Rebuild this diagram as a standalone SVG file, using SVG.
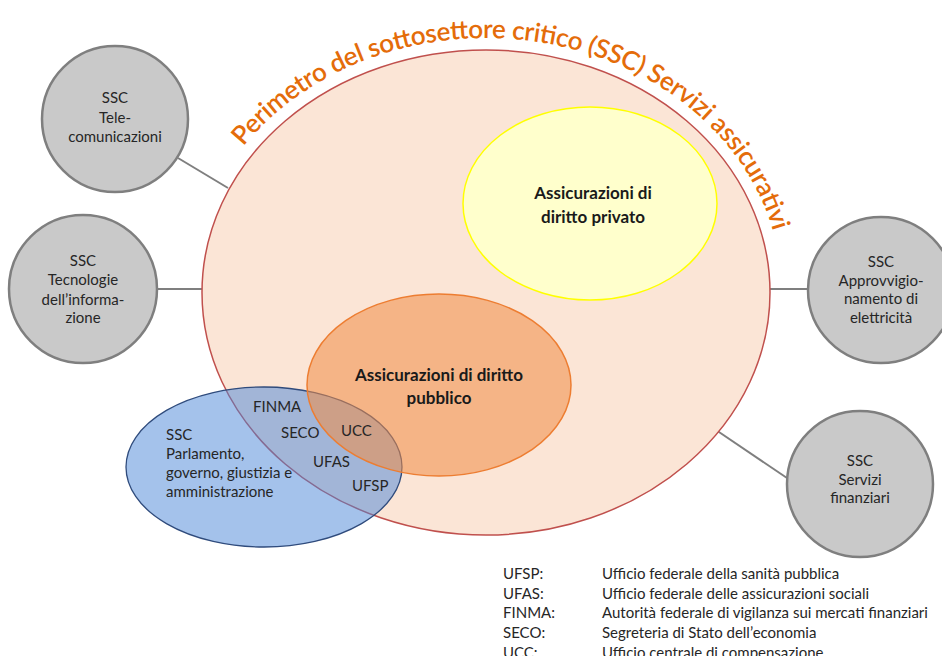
<svg xmlns="http://www.w3.org/2000/svg" width="942" height="656" viewBox="0 0 942 656">
<defs>
<style>
.t{font-family:Lato,"Liberation Sans",sans-serif;font-size:15px;fill:#262626}
.c{text-anchor:middle}
.b{font-family:Lato,"Liberation Sans",sans-serif;font-size:17px;font-weight:bold;fill:#1a1a1a;text-anchor:middle}
.gray{fill:#c9c9c9;stroke:#7f7f7f;stroke-width:2.5}
.conn{stroke:#7f7f7f;stroke-width:2;fill:none}
.title{font-family:Lato,"Liberation Sans",sans-serif;font-size:26px;font-weight:600;fill:#e46c0a}
</style>
<path id="arc" d="M 243.5 146.5 A 296 254.5 0 0 1 774.9 237.4"/>
</defs>
<rect width="942" height="656" fill="#ffffff"/>
<g id="connectors">
<line class="conn" x1="178" y1="158" x2="228" y2="188"/>
<line class="conn" x1="157" y1="289" x2="202" y2="289"/>
<line class="conn" x1="770" y1="289" x2="808" y2="289"/>
<line class="conn" x1="716" y1="430" x2="787" y2="478"/>
</g>
<g id="perimetro">
<ellipse cx="486" cy="292.5" rx="284" ry="242.5" fill="#fbe5d6" stroke="#c0504d" stroke-width="1.5"/>
<text class="title"><textPath href="#arc" textLength="645" lengthAdjust="spacing">Perimetro del sottosettore critico (SSC) Servizi assicurativi</textPath></text>
</g>
<g id="privato">
<ellipse cx="590" cy="203.5" rx="127" ry="96.5" fill="#ffffcc" stroke="#ffff00" stroke-width="1.5"/>
<text class="b" x="593" y="199">Assicurazioni di</text>
<text class="b" x="593" y="223">diritto privato</text>
</g>
<g id="parlamento">
<ellipse cx="264" cy="467" rx="138" ry="80" fill="#4a86d8" fill-opacity="0.5" stroke="#2f4b7c" stroke-width="1.3"/>
<text class="t" x="166" y="440">SSC</text>
<text class="t" x="166" y="459">Parlamento,</text>
<text class="t" x="166" y="478">governo, giustizia e</text>
<text class="t" x="166" y="497">amministrazione</text>
</g>
<g id="pubblico">
<ellipse cx="439" cy="385" rx="132" ry="91" fill="#f08c46" fill-opacity="0.55" stroke="#ed7d31" stroke-width="1.5"/>
<text class="b" x="439" y="381">Assicurazioni di diritto</text>
<text class="b" x="439" y="404">pubblico</text>
</g>
<g id="uffici">
<text class="t" x="253" y="412">FINMA</text>
<text class="t" x="281" y="438">SECO</text>
<text class="t" x="341" y="436">UCC</text>
<text class="t" x="313" y="467">UFAS</text>
<text class="t" x="352" y="491">UFSP</text>
</g>
<g id="telecomunicazioni">
<circle class="gray" cx="115" cy="119" r="73"/>
<text class="t c" x="115" y="103">SSC</text>
<text class="t c" x="115" y="123">Tele-</text>
<text class="t c" x="115" y="142">comunicazioni</text>
</g>
<g id="tecnologie">
<circle class="gray" cx="83" cy="289" r="74"/>
<text class="t c" x="83" y="266">SSC</text>
<text class="t c" x="83" y="285">Tecnologie</text>
<text class="t c" x="83" y="305">dell’informa-</text>
<text class="t c" x="83" y="323">zione</text>
</g>
<g id="elettricita">
<circle class="gray" cx="881" cy="290" r="73"/>
<text class="t c" x="881" y="267">SSC</text>
<text class="t c" x="881" y="286">Approvvigio-</text>
<text class="t c" x="881" y="304">namento di</text>
<text class="t c" x="881" y="323">elettricità</text>
</g>
<g id="finanziari">
<circle class="gray" cx="860" cy="484" r="73"/>
<text class="t c" x="860" y="466">SSC</text>
<text class="t c" x="860" y="485">Servizi</text>
<text class="t c" x="860" y="503">finanziari</text>
</g>
<g id="legenda">
<text class="t" x="503" y="579">UFSP:</text>
<text class="t" x="602" y="579">Ufficio federale della sanità pubblica</text>
<text class="t" x="503" y="598.5">UFAS:</text>
<text class="t" x="602" y="598.5">Ufficio federale delle assicurazioni sociali</text>
<text class="t" x="503" y="618">FINMA:</text>
<text class="t" x="602" y="618">Autorità federale di vigilanza sui mercati finanziari</text>
<text class="t" x="503" y="638">SECO:</text>
<text class="t" x="602" y="638">Segreteria di Stato dell’economia</text>
<text class="t" x="503" y="657.5">UCC:</text>
<text class="t" x="602" y="657.5">Ufficio centrale di compensazione</text>
</g>
</svg>
